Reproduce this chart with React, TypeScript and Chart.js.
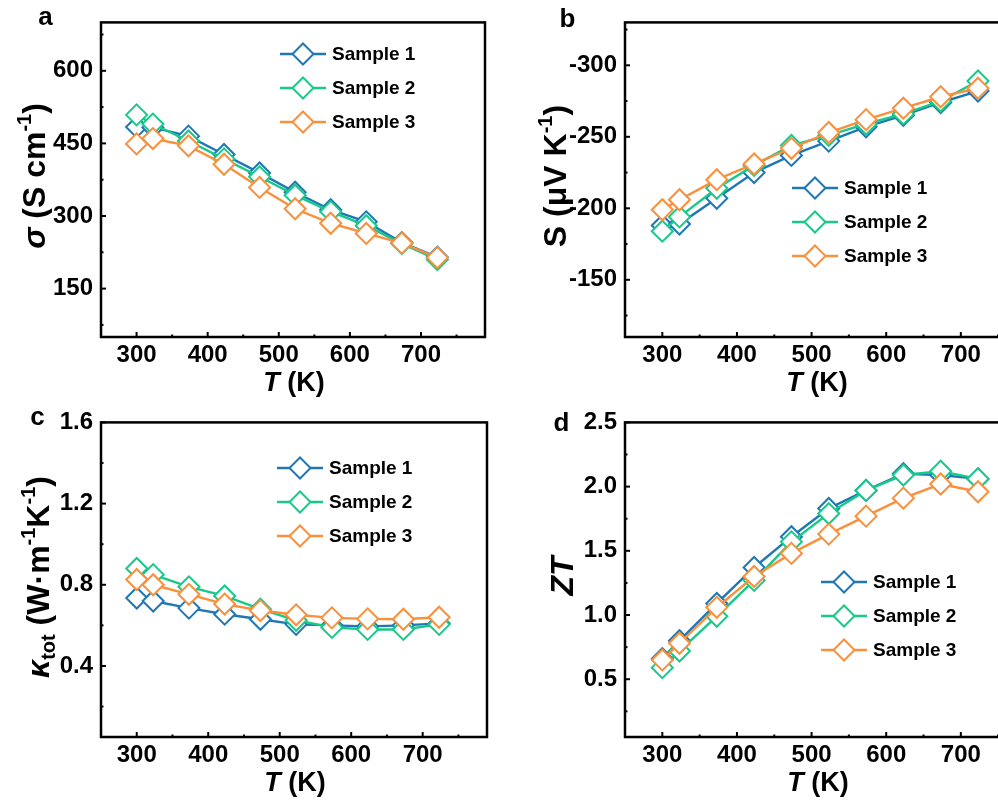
import React, { useEffect, useRef } from 'react';
import { Chart, registerables } from 'chart.js';

Chart.register(...registerables);

// ---------------- data ----------------
const temperatures = [300, 323, 373, 423, 473, 523, 573, 623, 673, 723];
const seriesNames = ['Sample 1', 'Sample 2', 'Sample 3'];
const seriesColors = ['#1f78b4', '#18c98a', '#fa8f3c'];

const sigma1 = [484, 483, 465, 427, 389, 349, 313, 288, 245, 215];
const sigma2 = [509, 490, 455, 418, 381, 343, 309, 280, 243, 210];
const sigma3 = [449, 460, 445, 407, 359, 315, 285, 264, 244, 214];

const seebeck1 = [-188, -189, -207, -225, -237, -247, -257, -265, -274, -282];
const seebeck2 = [-184, -194, -214, -230, -244, -251, -259, -266, -275, -289];
const seebeck3 = [-199, -206, -220, -231, -242, -253, -262, -270, -278, -284];

const kappa1 = [0.735, 0.72, 0.685, 0.655, 0.63, 0.605, 0.6, 0.595, 0.6, 0.61];
const kappa2 = [0.88, 0.85, 0.79, 0.745, 0.68, 0.625, 0.59, 0.58, 0.58, 0.605];
const kappa3 = [0.826, 0.8, 0.753, 0.705, 0.673, 0.652, 0.637, 0.632, 0.63, 0.64];

const zt1 = [0.66, 0.8, 1.09, 1.37, 1.61, 1.83, 1.97, 2.1, 2.09, 2.06];
const zt2 = [0.59, 0.72, 0.99, 1.27, 1.57, 1.79, 1.97, 2.09, 2.12, 2.06];
const zt3 = [0.65, 0.78, 1.06, 1.3, 1.48, 1.63, 1.77, 1.91, 2.02, 1.96];

const xMajorTicks = [300, 400, 500, 600, 700];
const xMinorTicks = [350, 450, 550, 650, 750];
const sigmaMajorTicks = [150, 300, 450, 600];
const sigmaMinorTicks = [75, 225, 375, 525, 675];
const seebeckMajorTicks = [-300, -250, -200, -150];
const seebeckMinorTicks = [-325, -275, -225, -175, -125];
const kappaMajorTicks = [0.4, 0.8, 1.2, 1.6];
const kappaMinorTicks = [0.2, 0.6, 1.0, 1.4];
const ztMajorTicks = [0.5, 1.0, 1.5, 2.0, 2.5];
const ztMinorTicks = [0.25, 0.75, 1.25, 1.75, 2.25];

// ---------------- style ----------------
const FONT = "'Liberation Sans', Arial, Helvetica, sans-serif";

type Seg = { t: string; italic?: boolean; sup?: boolean; sub?: boolean };

type Panel = {
  id: string;
  left: number; top: number; w: number; h: number;
  area: { l: number; r: number; t: number; b: number };
  yMin: number; yMax: number; reverse: boolean;
  yMajor: number[]; yMinor: number[];
  fmt: (v: number) => string;
  series: number[][];
  yTitle: Seg[]; yTitlePos: [number, number];
  xTitlePos: [number, number];
  label: string; labelPos: [number, number];
  legendPos: [number, number];
};

const xTitle: Seg[] = [{ t: 'T', italic: true }, { t: ' (K)' }];

const panels: Panel[] = [
  {
    id: 'a', left: 0, top: 0, w: 499, h: 400,
    area: { l: 101, r: 485, t: 16, b: 337 },
    yMin: 50, yMax: 700, reverse: false,
    yMajor: sigmaMajorTicks, yMinor: sigmaMinorTicks,
    fmt: (v) => String(v),
    series: [sigma1, sigma2, sigma3],
    yTitle: [{ t: 'σ', italic: true }, { t: ' (S cm' }, { t: '-1', sup: true }, { t: ')' }],
    yTitlePos: [33, 176], xTitlePos: [294, 381],
    label: 'a', labelPos: [45.5, 25], legendPos: [280, 54],
  },
  {
    id: 'b', left: 499, top: 0, w: 560, h: 400,
    area: { l: 126, r: 529, t: 16, b: 337 },
    yMin: -330, yMax: -110, reverse: true,
    yMajor: seebeckMajorTicks, yMinor: seebeckMinorTicks,
    fmt: (v) => String(v),
    series: [seebeck1, seebeck2, seebeck3],
    yTitle: [{ t: 'S (μV K' }, { t: '-1', sup: true }, { t: ')' }],
    yTitlePos: [55, 176], xTitlePos: [318, 381],
    label: 'b', labelPos: [68.5, 27], legendPos: [293, 188],
  },
  {
    id: 'c', left: 0, top: 400, w: 499, h: 400,
    area: { l: 101, r: 487, t: 16, b: 337 },
    yMin: 0.05, yMax: 1.6, reverse: false,
    yMajor: kappaMajorTicks, yMinor: kappaMinorTicks,
    fmt: (v) => v.toFixed(1),
    series: [kappa1, kappa2, kappa3],
    yTitle: [
      { t: 'κ', italic: true }, { t: 'tot', sub: true }, { t: ' (W·m' }, { t: '-1', sup: true },
      { t: 'K' }, { t: '-1', sup: true }, { t: ')' },
    ],
    yTitlePos: [37, 177], xTitlePos: [295, 381],
    label: 'c', labelPos: [37.5, 25], legendPos: [277, 68],
  },
  {
    id: 'd', left: 499, top: 400, w: 560, h: 400,
    area: { l: 126, r: 529, t: 16, b: 337 },
    yMin: 0.05, yMax: 2.5, reverse: false,
    yMajor: ztMajorTicks, yMinor: ztMinorTicks,
    fmt: (v) => v.toFixed(1),
    series: [zt1, zt2, zt3],
    yTitle: [{ t: 'ZT', italic: true }],
    yTitlePos: [62, 176], xTitlePos: [319, 381],
    label: 'd', labelPos: [62.5, 31], legendPos: [322, 182],
  },
];

function segFont(s: Seg, size: number) {
  const sz = s.sup || s.sub ? Math.round(size * 0.62) : size;
  return `${s.italic ? 'italic ' : ''}bold ${sz}px ${FONT}`;
}

function drawRich(ctx: CanvasRenderingContext2D, segs: Seg[], cx: number, cy: number, size: number, rotate: boolean) {
  ctx.save();
  ctx.fillStyle = '#000';
  ctx.textBaseline = 'alphabetic';
  ctx.textAlign = 'left';
  let total = 0;
  const widths = segs.map((s) => {
    ctx.font = segFont(s, size);
    const w = ctx.measureText(s.t).width;
    total += w;
    return w;
  });
  ctx.translate(cx, cy);
  if (rotate) ctx.rotate(-Math.PI / 2);
  let x = -total / 2;
  const base = size * 0.36;
  segs.forEach((s, i) => {
    ctx.font = segFont(s, size);
    let y = base;
    if (s.sup) y = base - size * 0.42;
    if (s.sub) y = base + size * 0.2;
    ctx.fillText(s.t, x, y);
    x += widths[i];
  });
  ctx.restore();
}

function drawDiamond(ctx: CanvasRenderingContext2D, x: number, y: number, r: number, color: string) {
  ctx.beginPath();
  ctx.moveTo(x - r, y);
  ctx.lineTo(x, y - r);
  ctx.lineTo(x + r, y);
  ctx.lineTo(x, y + r);
  ctx.closePath();
  ctx.fillStyle = '#fff';
  ctx.fill();
  ctx.lineWidth = 2;
  ctx.strokeStyle = color;
  ctx.stroke();
}

function makeDecor(p: Panel) {
  return {
    id: 'decor_' + p.id,
    afterDraw(chart: any) {
      const ctx: CanvasRenderingContext2D = chart.ctx;
      const a = chart.chartArea;
      const xs = chart.scales.x;
      const ys = chart.scales.y;
      ctx.save();
      // ticks (inward)
      ctx.strokeStyle = '#000';
      ctx.lineWidth = 2;
      const tick = (vals: number[], len: number) => {
        vals.forEach((v) => {
          const px = xs.getPixelForValue(v);
          if (px < a.left || px > a.right) return;
          ctx.beginPath();
          ctx.moveTo(px, a.bottom);
          ctx.lineTo(px, a.bottom - len);
          ctx.stroke();
        });
      };
      const ytick = (vals: number[], len: number) => {
        vals.forEach((v) => {
          const py = ys.getPixelForValue(v);
          if (py < a.top || py > a.bottom) return;
          ctx.beginPath();
          ctx.moveTo(a.left, py);
          ctx.lineTo(a.left + len, py);
          ctx.stroke();
        });
      };
      tick(xMajorTicks, 5);
      tick(xMinorTicks, 2.5);
      ytick(p.yMajor, 5);
      ytick(p.yMinor, 2.5);
      // frame
      ctx.lineWidth = 2.5;
      ctx.strokeRect(a.left, a.top, a.right - a.left, a.bottom - a.top);
      // legend
      seriesNames.forEach((name, i) => {
        const [lx, ly0] = p.legendPos;
        const ly = ly0 + i * 34;
        ctx.beginPath();
        ctx.moveTo(lx, ly);
        ctx.lineTo(lx + 46, ly);
        ctx.lineWidth = 2.4;
        ctx.strokeStyle = seriesColors[i];
        ctx.stroke();
        drawDiamond(ctx, lx + 23, ly, 10.5, seriesColors[i]);
        ctx.fillStyle = '#000';
        ctx.font = `bold 19px ${FONT}`;
        ctx.textBaseline = 'middle';
        ctx.textAlign = 'left';
        ctx.fillText(name, lx + 52, ly + 1);
      });
      // titles
      drawRich(ctx, p.yTitle, p.yTitlePos[0], p.yTitlePos[1], 32, true);
      drawRich(ctx, xTitle, p.xTitlePos[0], p.xTitlePos[1], 27, false);
      // panel label
      ctx.fillStyle = '#000';
      ctx.font = `bold 26px ${FONT}`;
      ctx.textAlign = 'center';
      ctx.textBaseline = 'alphabetic';
      ctx.fillText(p.label, p.labelPos[0], p.labelPos[1]);
      ctx.restore();
    },
  };
}

function PanelChart({ p }: { p: Panel }) {
  const ref = useRef<HTMLCanvasElement | null>(null);
  useEffect(() => {
    if (!ref.current) return;
    const tickFont = { family: FONT, size: 24, weight: 'bold' as const };
    const chart = new Chart(ref.current, {
      type: 'line',
      data: {
        datasets: p.series.map((vals, i) => ({
          label: seriesNames[i],
          data: temperatures.map((t, j) => ({ x: t, y: vals[j] })),
          borderColor: seriesColors[i],
          backgroundColor: '#fff',
          borderWidth: 2.4,
          pointStyle: 'rectRot',
          pointRadius: 10.5,
          pointBorderWidth: 2,
          pointBackgroundColor: '#fff',
          pointBorderColor: seriesColors[i],
          tension: 0,
          order: 3 - i,
        })),
      },
      options: {
        responsive: false,
        animation: false,
        events: [],
        layout: { padding: { left: 0, top: p.area.t, right: p.w - p.area.r, bottom: 0 }, autoPadding: false },
        plugins: { legend: { display: false }, tooltip: { enabled: false } },
        scales: {
          x: {
            type: 'linear',
            min: 250,
            max: 790,
            grid: { display: false, drawTicks: false },
            border: { display: false },
            ticks: { font: tickFont, color: '#000', padding: 4, maxRotation: 0, autoSkip: false },
            afterBuildTicks: (s: any) => { s.ticks = xMajorTicks.map((v) => ({ value: v })); },
            afterFit: (s: any) => { s.height = p.h - p.area.b; },
          },
          y: {
            type: 'linear',
            min: p.yMin,
            max: p.yMax,
            reverse: p.reverse,
            grid: { display: false, drawTicks: false },
            border: { display: false },
            ticks: {
              font: tickFont, color: '#000', padding: 8, autoSkip: false,
              callback: (v: any) => p.fmt(Number(v)),
            },
            afterBuildTicks: (s: any) => { s.ticks = p.yMajor.map((v) => ({ value: v })); },
            afterFit: (s: any) => { s.width = p.area.l; },
          },
        },
      } as any,
      plugins: [makeDecor(p)],
    });
    return () => chart.destroy();
  }, [p]);
  return (
    <canvas
      ref={ref}
      width={p.w}
      height={p.h}
      style={{ position: 'absolute', left: p.left, top: p.top, width: p.w, height: p.h }}
    />
  );
}

export default function App() {
  return (
    <div style={{ position: 'absolute', left: 0, top: 0, width: 998, height: 800, overflow: 'hidden', background: '#fff' }}>
      {panels.map((p) => (
        <PanelChart key={p.id} p={p} />
      ))}
    </div>
  );
}
